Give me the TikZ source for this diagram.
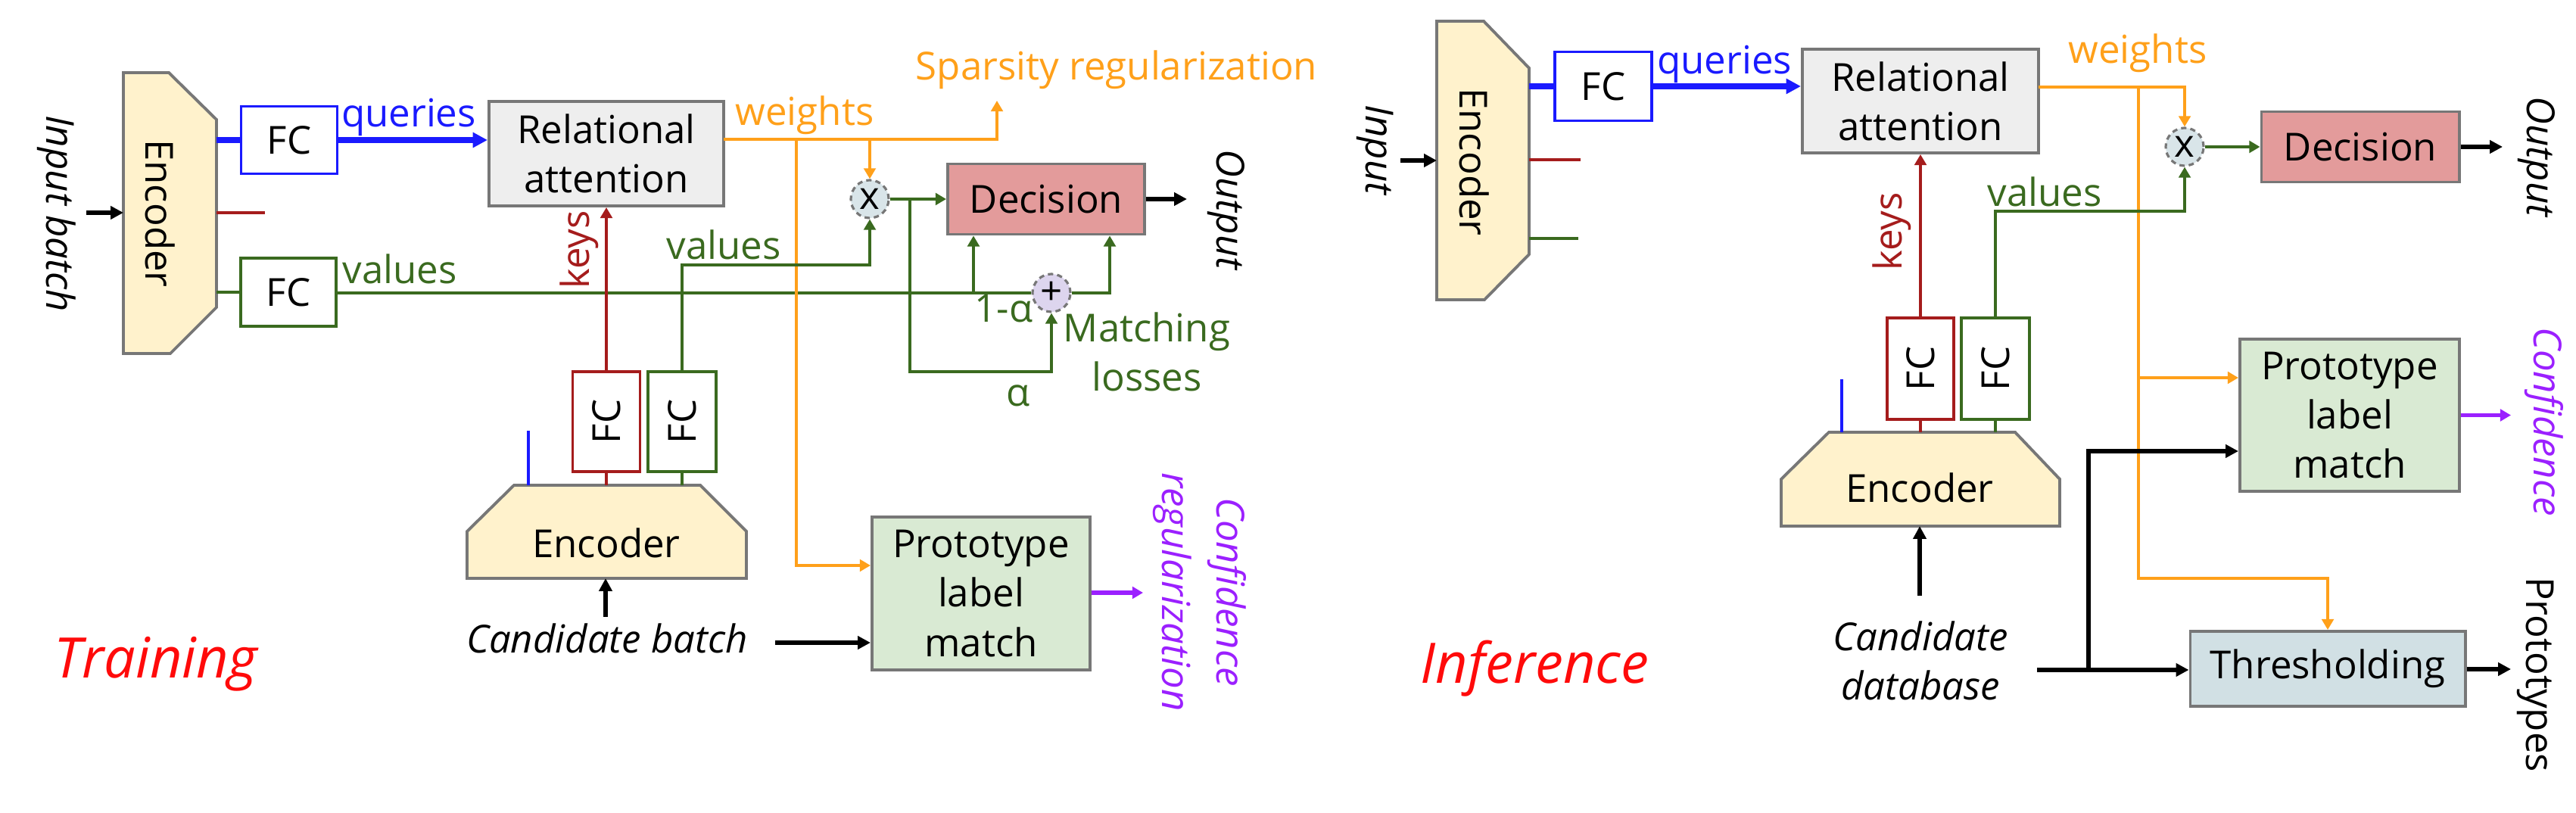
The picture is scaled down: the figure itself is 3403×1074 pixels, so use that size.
\documentclass[tikz,border=0pt]{standalone}
\usepackage{fontspec}
\setmainfont{Open Sans}
\usetikzlibrary{arrows.meta}
\definecolor{cblue}{HTML}{1A1AFF}
\definecolor{cred}{HTML}{A51C1C}
\definecolor{cgreen}{HTML}{3A6A1F}
\definecolor{corange}{HTML}{FFA01A}
\definecolor{cpurple}{HTML}{9B20FF}
\definecolor{encfill}{HTML}{FFF2CC}
\definecolor{rafill}{HTML}{EEEEEE}
\definecolor{decfill}{HTML}{E39B9B}
\definecolor{plmfill}{HTML}{D9EAD3}
\definecolor{thrfill}{HTML}{D1E0E4}
\definecolor{timesfill}{HTML}{D9E5E9}
\definecolor{plusfill}{HTML}{DDD5EE}
\definecolor{bordergray}{HTML}{777777}
\definecolor{titlered}{HTML}{FF0A0A}
\tikzset{
  every node/.style={font=\fontsize{14.5}{18.5}\selectfont},
  lbl/.style={inner sep=0pt,align=center},
  box/.style={draw=bordergray,line width=1.1pt,inner sep=0pt,align=center},
  fcbox/.style={fill=white,line width=1pt,inner sep=0pt},
  op/.style={circle,draw=bordergray,dash pattern=on 2pt off 1.5pt,line width=0.9pt,minimum size=0.50cm,inner sep=0pt},
  enc/.style={draw=bordergray,fill=encfill,line width=1.1pt,line join=miter},
  ln/.style={line width=1.25pt},
  arr/.style={ln,-{Triangle[length=4pt,width=4.4pt]}},
  blk/.style={line width=1.6pt,-{Triangle[length=4.8pt,width=4.8pt]}},
  qarr/.style={line width=2pt,-{Triangle[length=5.5pt,width=5.5pt]}},
  it/.style={lbl,font=\fontsize{14.5}{18.5}\selectfont\itshape},
  title/.style={inner sep=0pt,anchor=base west,text=titlered,font=\fontsize{21}{26}\selectfont\itshape},
}
\begin{document}
\begin{tikzpicture}[x=0.01cm,y=-0.01cm]
\useasboundingbox (0,0) rectangle (3403,1074);

%%%%%%%%%%%%%%%% TRAINING %%%%%%%%%%%%%%%%
% input encoder
\draw[enc] (163,96) -- (223,96) -- (286,158) -- (286,406) -- (225,467) -- (163,467) -- cycle;
\node[lbl,rotate=-90] (encA) at (212,282) {Encoder};
\coordinate (eAq) at (286,185);
\coordinate (eAk) at (286,281);
\coordinate (eAv) at (286,386);
\coordinate (eAin) at (163,281);
\node[it,rotate=-90] (inA) at (75,282) {Input batch};
\coordinate (inAa) at (114,281);
\draw[blk] (inAa) -- (eAin);

\node[fcbox,draw=cblue,minimum width=1.27cm,minimum height=0.89cm] (fcqA) at (382,185) {FC};
\node[box,fill=rafill,minimum width=3.10cm,minimum height=1.38cm] (raA) at (801,203) {Relational\\attention};
\draw[cblue,line width=2pt] (eAq) -- (fcqA.west);
\draw[cblue,qarr] (fcqA.east) -- (fcqA.east -| raA.west);
\node[lbl,text=cblue] (qA) at (540,155) {queries};
\coordinate (kAstub) at (350,281);
\draw[ln,cred] (eAk) -- (kAstub);
\node[fcbox,draw=cgreen,minimum width=1.26cm,minimum height=0.90cm] (fcvA) at (381,386) {FC};
\draw[ln,cgreen] (eAv) -- (fcvA.west);
\node[lbl,text=cgreen] (vA) at (528,355) {values};

% decision and operators
\node[box,fill=decfill,minimum width=2.60cm,minimum height=0.93cm] (decA) at (1382,263) {Decision};
\node[op,fill=timesfill] (tmA) at (1149,263) {x};
\node[op,fill=plusfill] (plA) at (1389,387) {+};
\coordinate (jA1) at (1286,387);
\coordinate (jA2) at (1466,387);
\draw[ln,cgreen] (fcvA.east |- plA.west) -- (plA.west);
\draw[arr,cgreen] (jA1) -- (jA1 |- decA.south);
\draw[arr,cgreen] (plA.east) -- (jA2) -- (jA2 |- decA.south);
\draw[arr,cgreen] (tmA.east) -- (decA.west |- tmA.east);
\coordinate (oA) at (1568,263);
\draw[blk] (decA.east) -- (oA);
\node[it,rotate=-90] (outA) at (1620,277) {Output};
\coordinate (aA) at (1202,263);
\draw[arr,cgreen] (aA) -- (1202,491) -| (plA.south);
\node[lbl,text=cgreen] (omA) at (1326,408) {1-α};
\node[lbl,text=cgreen] (alA) at (1345,523) {α};
\node[lbl,text=cgreen] (mlA) at (1515,465) {Matching\\losses};

% weights
\coordinate (wA0) at (956,184);
\coordinate (spA) at (1317,133);
\draw[arr,corange] (wA0) -| (spA);
\node[lbl,text=corange] (sA) at (1475,92) {Sparsity regularization};
\node[lbl,text=corange] (wA) at (1063,152) {weights};
\coordinate (wA1) at (1149,184);
\draw[arr,corange] (wA1) -- (tmA.north);

% prototype label match
\node[box,fill=plmfill,minimum width=2.88cm,minimum height=2.02cm] (plmA) at (1296,784) {Prototype\\label\\match};
\coordinate (wA2) at (1052,184);
\draw[arr,corange] (wA2) |- (plmA.west |- 0,747);
\coordinate (cfA) at (1510,783);
\draw[cpurple,arr,line width=1.6pt] (plmA.east |- cfA) -- (cfA);
\node[it,text=cpurple,rotate=-90,font=\fontsize{14.5}{20.5}\selectfont\itshape] (confA) at (1585,782) {Confidence\\regularization};

% candidate FCs
\node[fcbox,draw=cred,minimum width=0.89cm,minimum height=1.32cm] (fckA) at (801,557) {\rotatebox{90}{FC}};
\node[fcbox,draw=cgreen,minimum width=0.90cm,minimum height=1.32cm] (fcvA2) at (901,557) {\rotatebox{90}{FC}};
\draw[arr,cred] (fckA.north) -- (fckA.north |- raA.south);
\node[lbl,text=cred,rotate=90] (kA) at (765,330) {keys};
\coordinate (vA0) at (1149,350);
\draw[arr,cgreen] (fcvA2.north) |- (vA0) -- (tmA.south);
\node[lbl,text=cgreen] (vA2) at (956,323) {values};

% candidate encoder
\draw[enc] (617,764) -- (617,702) -- (679,641) -- (925,641) -- (986,702) -- (986,764) -- cycle;
\node[lbl] (encB) at (801,717) {Encoder};
\draw[ln,cred] (fckA.south) -- (fckA.south |- 0,641);
\draw[ln,cgreen] (fcvA2.south) -- (fcvA2.south |- 0,641);
\coordinate (bsA1) at (698,569);
\coordinate (bsA2) at (698,641);
\draw[ln,cblue] (bsA1) -- (bsA2);
\node[it] (cbA) at (802,843) {Candidate batch};
\coordinate (cbAa) at (800,815);
\coordinate (eBin) at (800,764);
\draw[blk] (cbAa) -- (eBin);
\coordinate (cbAb) at (1024,849);
\draw[blk] (cbAb) -- (plmA.west |- cbAb);

\node[title] (trn) at (71,896) {Training};

%%%%%%%%%%%%%%%% INFERENCE %%%%%%%%%%%%%%%%
\draw[enc] (1898,28) -- (1960,28) -- (2020,90) -- (2020,336) -- (1961,396) -- (1898,396) -- cycle;
\node[lbl,rotate=-90] (encC) at (1948,214) {Encoder};
\node[it,rotate=-90] (inC) at (1817,198) {Input};
\coordinate (inCa) at (1850,212);
\coordinate (eCin) at (1898,212);
\draw[blk] (inCa) -- (eCin);
\node[fcbox,draw=cblue,minimum width=1.28cm,minimum height=0.91cm] (fcqC) at (2118,114) {FC};
\node[box,fill=rafill,minimum width=3.12cm,minimum height=1.37cm] (raC) at (2537,133.5) {Relational\\attention};
\coordinate (eCq) at (2020,114);
\draw[cblue,line width=2pt] (eCq) -- (fcqC.west);
\draw[cblue,qarr] (fcqC.east) -- (fcqC.east -| raC.west);
\node[lbl,text=cblue] (qC) at (2278,85) {queries};
\coordinate (eCk) at (2020,211);
\coordinate (kCstub) at (2088,211);
\draw[ln,cred] (eCk) -- (kCstub);
\coordinate (eCv) at (2020,315);
\coordinate (vCstub) at (2085,315);
\draw[ln,cgreen] (eCv) -- (vCstub);

\node[box,fill=decfill,minimum width=2.61cm,minimum height=0.93cm] (decC) at (3118,194) {Decision};
\node[op,fill=timesfill] (tmC) at (2886,194) {x};
\draw[arr,cgreen] (tmC.east) -- (decC.west |- tmC.east);
\coordinate (oC) at (3306,194);
\draw[blk] (decC.east) -- (oC);
\node[it,rotate=-90] (outC) at (3351,207) {Output};

\coordinate (wC0) at (2693,115);
\draw[arr,corange] (wC0) -| (tmC.north);
\node[lbl,text=corange] (wC) at (2824,70) {weights};

\node[box,fill=plmfill,minimum width=2.90cm,minimum height=2.01cm] (plmC) at (3104,548.5) {Prototype\\label\\match};
\node[box,fill=thrfill,minimum width=3.63cm,minimum height=0.99cm] (thrC) at (3075,883.5) {Thresholding};
\coordinate (wC1) at (2825,115);
\coordinate (wC2) at (2825,499);
\draw[arr,corange] (wC1) |- (thrC.north |- 0,764) -- (thrC.north);
\draw[arr,corange] (wC2) -- (plmC.west |- wC2);

\node[fcbox,draw=cred,minimum width=0.88cm,minimum height=1.34cm] (fckC) at (2537,487) {\rotatebox{90}{FC}};
\node[fcbox,draw=cgreen,minimum width=0.90cm,minimum height=1.34cm] (fcvC) at (2636,487) {\rotatebox{90}{FC}};
\draw[arr,cred] (fckC.north) -- (fckC.north |- raC.south);
\node[lbl,text=cred,rotate=90] (kC) at (2499,306) {keys};
\coordinate (vC0) at (2886,279);
\draw[arr,cgreen] (fcvC.north) |- (vC0) -- (tmC.south);
\node[lbl,text=cgreen] (vC) at (2701,253) {values};

\draw[enc] (2353,695) -- (2353,633) -- (2416,571) -- (2662,571) -- (2721,633) -- (2721,695) -- cycle;
\node[lbl] (encD) at (2536,644) {Encoder};
\draw[ln,cred] (fckC.south) -- (fckC.south |- 0,571);
\draw[ln,cgreen] (fcvC.south) -- (fcvC.south |- 0,571);
\coordinate (bsC1) at (2433,501);
\coordinate (bsC2) at (2433,571);
\draw[ln,cblue] (bsC1) -- (bsC2);
\node[it] (cdC) at (2537,873) {Candidate\\database};
\coordinate (cdCa) at (2536,787);
\coordinate (eDin) at (2536,695);
\draw[blk] (cdCa) -- (eDin);
\coordinate (cdCb) at (2691,885);
\coordinate (jC) at (2759,885);
\draw[blk] (cdCb) -- (thrC.west |- cdCb);
\draw[blk] (jC) |- (plmC.west |- 0,596);
\coordinate (cfC) at (3317,548.5);
\draw[cpurple,arr,line width=1.6pt] (plmC.east) -- (cfC);
\node[it,text=cpurple,rotate=-90] (confC) at (3361,557) {Confidence};
\coordinate (ptC) at (3317,884);
\draw[blk] (thrC.east |- ptC) -- (ptC);
\node[lbl,rotate=-90] (protC) at (3350,891) {Prototypes};

\node[title] (inf) at (1876,903) {Inference};
\end{tikzpicture}
\end{document}
